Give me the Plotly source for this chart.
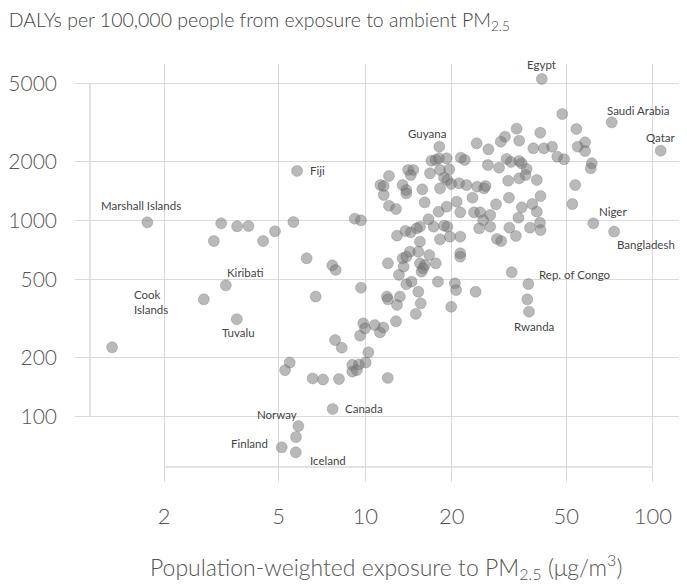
import numpy as np
import plotly.graph_objects as go

# labelled countries
label_names = ["Egypt", "Saudi Arabia", "Qatar", "Niger", "Bangladesh", "Rep. of Congo",
               "Rwanda", "Guyana", "Fiji", "Marshall Islands", "Kiribati", "Cook Islands",
               "Tuvalu", "Norway", "Finland", "Iceland", "Canada"]
label_pm25 = [41.1, 71.9, 106.4, 62.1, 73.3, 36.9, 37.1, 18.1, 5.8, 1.75, 3.28, 2.75,
              3.58, 5.86, 5.13, 5.74, 7.71]
label_dalys = [5260, 3160, 2265, 965, 876, 473, 342, 2374, 1785, 977, 466, 395,
               313, 89.2, 69.5, 65.5, 109]

# all other countries
other_pm25 = [
    1.32, 3.16, 3.59, 3.93, 2.98, 4.42, 4.86, 5.63, 6.26, 7.69, 7.90, 6.73, 9.67, 9.20,
    9.67, 7.86, 8.29, 5.47, 5.27, 6.57, 7.14, 8.11, 9.60, 9.85, 9.99, 10.8, 10.26, 9.02,
    9.52, 10.04, 9.02, 9.35, 11.26, 11.56, 12.8, 11.98, 5.75,
    48.4, 33.6, 54.2, 40.6, 30.6, 29.6, 34.3, 58.1, 24.4, 26.8, 38.4, 41.8, 44.6, 54.8,
    58.1, 17.0, 17.6, 18.05, 19.2, 21.5, 22.2, 26.7, 29.2, 31.0, 32.1, 34.3, 35.0, 46.5,
    49.1, 61.3, 60.8, 14.1, 14.7, 14.4, 12.1, 16.8, 18.2, 19.6, 18.8, 19.3, 19.9, 21.2,
    22.5, 36.4, 36.1, 34.3, 31.4, 39.5, 11.3, 11.6, 11.6, 13.5, 13.9, 13.9, 15.8, 18.2,
    24.5, 25.9, 26.2, 53.7, 40.7, 31.6, 23.6, 16.1, 12.1, 12.8, 18.0, 19.2, 20.8, 21.4,
    23.9, 25.1, 27.2, 28.5, 35.0, 38.1, 39.5, 52.5, 16.6, 34.1, 25.7, 40.5, 40.7, 37.4,
    31.7, 27.2, 24.9, 19.3, 18.8, 17.3, 15.5, 15.1, 14.4, 13.8, 12.9, 33.4, 29.7, 28.7,
    21.4, 19.7, 18.2, 15.5, 14.3, 15.3, 13.5, 13.9, 16.7, 21.4, 21.4, 12.0, 15.5, 16.1,
    17.6, 13.6, 15.7, 15.9, 13.1, 32.3, 13.9, 14.5, 15.3, 17.9, 20.5, 20.7, 24.2, 36.6,
    11.9, 12.0, 13.2, 12.9, 15.6, 15.0, 19.9,
]
other_dalys = [
    225, 965, 932, 935, 784, 784, 879, 980, 640, 589, 558, 408, 453, 1019,
    1000, 245, 224, 188, 172, 156, 154, 155, 258, 298, 281, 292, 212, 183,
    184, 188, 169, 172, 268, 284, 305, 157, 78.4,
    3486, 2934, 2924, 2798, 2670, 2518, 2547, 2500, 2471, 2303, 2330, 2330, 2374, 2374,
    2257, 2014, 2031, 2072, 2072, 2086, 2031, 1915, 1855, 2055, 1984, 2007, 1953, 2111,
    2048, 1953, 1842, 1806, 1806, 1702, 1683, 1738, 1806, 1820, 1650, 1606, 1532, 1545,
    1514, 1827, 1702, 1638, 1592, 1606, 1514, 1496, 1346, 1514, 1427, 1373, 1439, 1456,
    1484, 1456, 1496, 1514, 1330, 1304, 1304, 1235, 1187, 1142, 1106, 1173, 1244, 1098,
    1098, 1098, 1064, 1207, 1165, 1211, 1106, 1211, 1012, 1031, 1002, 972, 892, 917,
    917, 928, 910, 928, 938, 928, 928, 910, 868, 882, 835, 832, 784, 803,
    825, 825, 800, 778, 691, 691, 640, 652, 665, 679, 652, 603, 603, 591,
    603, 580, 547, 569, 526, 543, 472, 486, 432, 486, 477, 441, 432, 395,
    408, 395, 408, 370, 377, 333, 362,
]

x_ticks = [2, 5, 10, 20, 50, 100]
y_ticks = [100, 200, 500, 1000, 2000, 5000]

# label placement: (xanchor, xshift, yshift)
label_pos = {
    "Egypt": ("center", 0, 14),
    "Saudi Arabia": ("left", -7, 12),
    "Qatar": ("right", 17, 13),
    "Niger": ("left", 4, 11.5),
    "Bangladesh": ("left", 1, -12.6),
    "Rep. of Congo": ("left", 8.5, 9.7),
    "Rwanda": ("center", 4.7, -15),
    "Guyana": ("center", -12, 13.4),
    "Fiji": ("left", 11, 0),
    "Marshall Islands": ("center", -6, 16.6),
    "Kiribati": ("left", -1, 12.6),
    "Cook Islands": ("right", -34, -3),
    "Tuvalu": ("center", 2, -13),
    "Norway": ("right", 1, 11.7),
    "Finland": ("right", -11.7, 4),
    "Iceland": ("left", 12.6, -8),
    "Canada": ("left", 10.6, 0),
}

FONT = "Lato, 'Open Sans', sans-serif"
GRID = "#dadada"

fig = go.Figure()

# range-frame axis lines
fig.add_trace(go.Scatter(x=[1.106, 1.106], y=[y_ticks[0], y_ticks[-1]], mode="lines",
                         line=dict(color=GRID, width=1.5), hoverinfo="skip", showlegend=False))
fig.add_trace(go.Scatter(x=[x_ticks[0], x_ticks[-1]], y=[55.1, 55.1], mode="lines",
                         line=dict(color=GRID, width=1.5), hoverinfo="skip", showlegend=False))

fig.add_trace(go.Scatter(
    x=other_pm25 + label_pm25,
    y=other_dalys + label_dalys,
    mode="markers",
    marker=dict(size=11, color="rgba(115,115,115,0.5)",
                line=dict(color="rgba(95,95,95,0.45)", width=0.6)),
    showlegend=False,
))

for name, px, py in zip(label_names, label_pm25, label_dalys):
    anchor, xs, ys = label_pos[name]
    text = "Cook<br>Islands" if name == "Cook Islands" else name
    fig.add_annotation(x=np.log10(px), y=np.log10(py), xref="x", yref="y", text=text,
                       showarrow=False, xanchor=anchor, yanchor="middle", align="left",
                       xshift=xs, yshift=ys,
                       font=dict(family=FONT, size=11.5, color="#444"))

fig.add_annotation(
    x=0.512, y=-0.203, xref="paper", yref="paper", showarrow=False,
    text="Population-weighted exposure to PM<sub>2.5</sub> (μg/m<sup>3</sup>)",
    xanchor="center", yanchor="middle",
    font=dict(family=FONT, size=23, color="#555", weight=300))

fig.update_layout(
    width=679, height=577,
    margin=dict(l=67, r=4, t=56, b=103),
    paper_bgcolor="white", plot_bgcolor="white",
    font=dict(family=FONT, color="#555"),
    title=dict(text="DALYs per 100,000 people from exposure to ambient PM<sub>2.5</sub>",
               x=0.001, xanchor="left", y=1 - 12 / 577, yanchor="middle", yref="container",
               font=dict(family=FONT, size=19.5, color="#444", weight=300)),
    xaxis=dict(type="log", range=[-0.0083, 2.1045], tickvals=x_ticks,
               ticktext=[str(v) for v in x_ticks], showgrid=True, gridcolor=GRID,
               gridwidth=1.2, zeroline=False, showline=False, ticks="", automargin=False,
               ticklabelstandoff=19, tickfont=dict(size=22, color="#555", weight=300)),
    yaxis=dict(type="log", range=[1.6648, 3.7974], tickvals=y_ticks,
               ticktext=[str(v) for v in y_ticks], showgrid=True, gridcolor=GRID,
               gridwidth=1.2, zeroline=False, showline=False, ticks="", automargin=False,
               ticklabelstandoff=17, tickfont=dict(size=21, color="#555", weight=300)),
)

fig.write_html("out.html")
